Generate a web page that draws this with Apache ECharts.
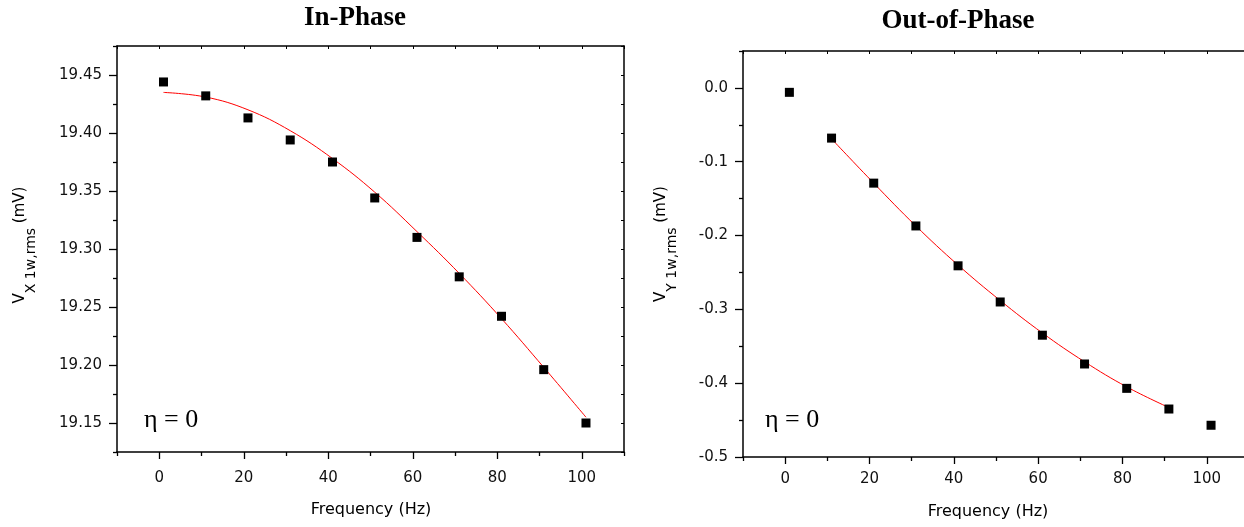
<!DOCTYPE html>
<html><head><meta charset="utf-8">
<script src="https://cdn.jsdelivr.net/npm/echarts@6/dist/echarts.min.js"></script>
<style>html,body{margin:0;padding:0;background:#fff}#c{width:1244px;height:527px}</style>
</head><body><div id="c"></div>
<script>
// ---- data ----
const frequency = [1, 11, 21, 31, 41, 51, 61, 71, 81, 91, 101];
const inPhase = [19.444, 19.432, 19.413, 19.394, 19.375, 19.344, 19.310, 19.276, 19.242, 19.196, 19.150];
const inPhaseFitFreq = [1, 11, 21, 31, 41, 51, 61, 71, 81, 91, 101];
const inPhaseFit = [19.435, 19.431, 19.420, 19.402, 19.378, 19.349, 19.315, 19.279, 19.240, 19.198, 19.155];
const outPhase = [-0.006, -0.068, -0.129, -0.187, -0.241, -0.290, -0.335, -0.374, -0.407, -0.435, -0.457];
const outPhaseFitFreq = [11, 21, 31, 41, 51, 61, 71, 81, 91];
const outPhaseFit = [-0.069, -0.129, -0.187, -0.240, -0.288, -0.332, -0.371, -0.405, -0.433];

const xTickLabels = [0, 20, 40, 60, 80, 100];
const xMinorTicks = [-10, 10, 30, 50, 70, 90, 110];
const xAllTicks = [-10, 0, 10, 20, 30, 40, 50, 60, 70, 80, 90, 100, 110];
const inTickLabels = [19.15, 19.20, 19.25, 19.30, 19.35, 19.40, 19.45];
const inMinorTicks = [19.125, 19.175, 19.225, 19.275, 19.325, 19.375, 19.425, 19.475];
const outTickLabels = [-0.5, -0.4, -0.3, -0.2, -0.1, 0.0];
const outMinorTicks = [-0.45, -0.35, -0.25, -0.15, -0.05, 0.05];

const titles = ['In-Phase', 'Out-of-Phase'];
const xTitle = 'Frequency (Hz)';
const etaLabel = 'η = 0';

const pair = (xs, ys) => xs.map((x, i) => [x, ys[i]]);

// ---- styles ----
const AX = '#000';
const LBL = { fontFamily: 'DejaVu Sans', fontSize: 15, color: '#111' };
const lineStyle = { color: AX, width: 1.5 };
const noLine = { show: false, onZero: false };

function xAxes(grid, margin) {
  return [
    { type: 'value', gridIndex: grid, position: 'bottom', min: -10, max: 110,
      axisLine: { show: true, onZero: false, lineStyle },
      axisTick: { show: true, inside: false, length: 7, customValues: xTickLabels, lineStyle: { color: AX, width: 1.3 } },
      axisLabel: { show: true, customValues: xTickLabels, margin, ...LBL },
      splitLine: { show: false } },
    { type: 'value', gridIndex: grid, position: 'bottom', min: -10, max: 110,
      axisLine: noLine,
      axisTick: { show: true, inside: false, length: 4, customValues: xMinorTicks, lineStyle: { color: AX, width: 1.3 } },
      axisLabel: { show: false }, splitLine: { show: false } },
    { type: 'value', gridIndex: grid, position: 'top', min: -10, max: 110,
      axisLine: { show: true, onZero: false, lineStyle },
      axisTick: { show: true, inside: true, length: 3, customValues: xAllTicks, lineStyle: { color: AX, width: 1 } },
      axisLabel: { show: false }, splitLine: { show: false } }
  ];
}
function yAxes(grid, min, max, majors, minors, digits) {
  const all = majors.concat(minors);
  return [
    { type: 'value', gridIndex: grid, position: 'left', min, max,
      axisLine: { show: true, onZero: false, lineStyle },
      axisTick: { show: true, inside: false, length: 8, customValues: majors, lineStyle: { color: AX, width: 1.3 } },
      axisLabel: { show: true, customValues: majors, margin: 15, formatter: v => v.toFixed(digits), ...LBL },
      splitLine: { show: false } },
    { type: 'value', gridIndex: grid, position: 'left', min, max,
      axisLine: noLine,
      axisTick: { show: true, inside: false, length: 4, customValues: minors, lineStyle: { color: AX, width: 1.3 } },
      axisLabel: { show: false }, splitLine: { show: false } },
    { type: 'value', gridIndex: grid, position: 'right', min, max,
      axisLine: { show: true, onZero: false, lineStyle },
      axisTick: { show: true, inside: true, length: 3, customValues: all, lineStyle: { color: AX, width: 1 } },
      axisLabel: { show: false }, splitLine: { show: false } }
  ];
}

const yLabelRich = {
  m: { fontFamily: 'DejaVu Sans', fontSize: 15, lineHeight: 15, verticalAlign: 'top', color: '#111' },
  s: { fontFamily: 'DejaVu Sans', fontSize: 14, lineHeight: 36, verticalAlign: 'middle', color: '#111' }
};
function yTitle(x, y, sub) {
  return { type: 'text', x, y, rotation: Math.PI / 2,
    style: { text: '{m|V}{s|' + sub + '}{m| (mV)}', rich: yLabelRich, align: 'center', verticalAlign: 'middle' } };
}
function txt(x, y, text, font, align) {
  return { type: 'text', x, y, style: { text, font, fill: '#000', align: align || 'center', verticalAlign: 'middle' } };
}

const chart = echarts.init(document.getElementById('c'));
chart.setOption({
  animation: false,
  backgroundColor: '#fff',
  grid: [
    { left: 117, top: 46, width: 507, height: 406, outerBoundsMode: 'none', containLabel: false },
    { left: 743, top: 51, width: 506, height: 406, outerBoundsMode: 'none', containLabel: false }
  ],
  xAxis: xAxes(0, 19).concat(xAxes(1, 15)),
  yAxis: yAxes(0, 19.125, 19.475, inTickLabels, inMinorTicks, 2)
    .concat(yAxes(1, -0.5, 0.05, outTickLabels, outMinorTicks, 1)),
  series: [
    { type: 'line', xAxisIndex: 0, yAxisIndex: 0, data: pair(inPhaseFitFreq, inPhaseFit),
      smooth: 0.4, showSymbol: false, lineStyle: { color: '#ff0000', width: 1 }, z: 2 },
    { type: 'scatter', xAxisIndex: 0, yAxisIndex: 0, data: pair(frequency, inPhase),
      symbol: 'rect', symbolSize: 9, itemStyle: { color: '#000', opacity: 1 }, z: 3 },
    { type: 'line', xAxisIndex: 3, yAxisIndex: 3, data: pair(outPhaseFitFreq, outPhaseFit),
      smooth: 0.4, showSymbol: false, lineStyle: { color: '#ff0000', width: 1 }, z: 2 },
    { type: 'scatter', xAxisIndex: 3, yAxisIndex: 3, data: pair(frequency, outPhase),
      symbol: 'rect', symbolSize: 9, itemStyle: { color: '#000', opacity: 1 }, z: 3 }
  ],
  graphic: [
    txt(355, 18, titles[0], 'bold 27px "Liberation Serif"'),
    txt(958, 21, titles[1], 'bold 27px "Liberation Serif"'),
    txt(371, 510, xTitle, '16px "DejaVu Sans"'),
    txt(988, 512, xTitle, '16px "DejaVu Sans"'),
    txt(144, 420, etaLabel, '26px "Liberation Serif"', 'left'),
    txt(765, 420, etaLabel, '26px "Liberation Serif"', 'left'),
    yTitle(31, 245, 'X 1w,rms'),
    yTitle(672, 244, 'Y 1w,rms')
  ]
});
</script></body></html>
